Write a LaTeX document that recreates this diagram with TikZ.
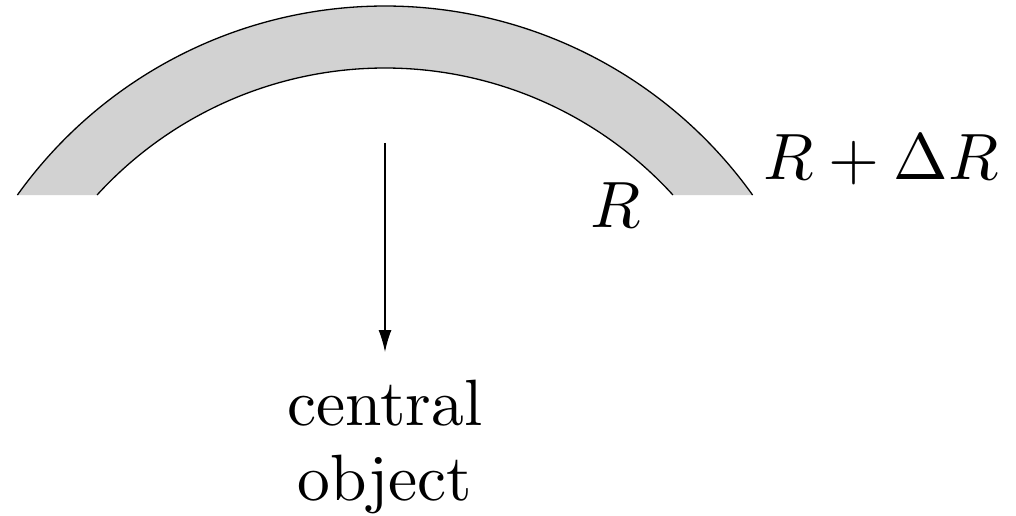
\RequirePackage{fix-cm}
\documentclass[tikz,border=0pt]{standalone}
\usetikzlibrary{arrows.meta}
\begin{document}
\begin{tikzpicture}[x=1pt,y=1pt,
  shellline/.style={line width=1.3pt},
  txt/.style={inner sep=0pt,scale=6.55,font=\fontsize{10}{12}\selectfont}]
\useasboundingbox (0,0) rectangle (1016,515);
% shell fill
\fill[gray!35] (385,57) ++(35.58:452) arc[start angle=35.58,end angle=144.42,radius=452]
  -- (97,320) arc[start angle=137.59,end angle=42.41,radius=390] -- cycle;
\draw[shellline] (385,57) ++(35.58:452) arc[start angle=35.58,end angle=144.42,radius=452];
\draw[shellline] (385,57) ++(42.41:390) arc[start angle=42.41,end angle=137.59,radius=390];
% labels
\node[txt,anchor=base west] (outer) at (762,336) {$R+\Delta R$};
\node[txt,anchor=base west] (inner) at (589,288) {$R$};
\node[txt,anchor=base] (central) at (385,90) {central};
\node[txt,anchor=base] (object) at (385,15) {object};
% arrow
\coordinate (start) at (385,372);
\coordinate (tip) at (385,163);
\draw[line width=1.3pt,-{Latex[length=22pt,width=13pt]}] (start) -- (tip);
\end{tikzpicture}
\end{document}
